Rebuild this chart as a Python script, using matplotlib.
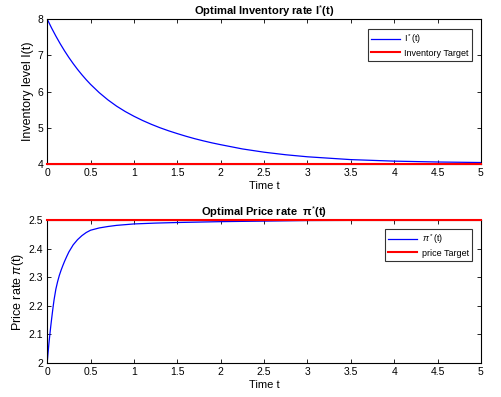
import matplotlib.pyplot as plt

plt.rcParams['font.family'] = ['Liberation Sans', 'DejaVu Sans']
plt.rcParams['mathtext.fontset'] = 'custom'
plt.rcParams['mathtext.rm'] = 'Liberation Sans'
plt.rcParams['mathtext.it'] = 'Liberation Sans:italic'
plt.rcParams['mathtext.bf'] = 'Liberation Sans:bold'

# inventory trajectory
t_inv = [0, 0.05, 0.1, 0.15, 0.2, 0.25, 0.3, 0.35, 0.4, 0.45, 0.5, 0.6, 0.7,
         0.8, 0.9, 1.0, 1.1, 1.2, 1.3, 1.4, 1.5, 1.6, 1.7, 1.8, 1.9, 2,
         2.25, 2.5, 2.75, 3, 3.5, 4, 4.5, 5]
inv = [8, 7.756, 7.530, 7.319, 7.122, 6.939, 6.769, 6.610, 6.463, 6.325,
       6.197, 5.968, 5.769, 5.596, 5.447, 5.317, 5.2, 5.095, 5.0, 4.915,
       4.838, 4.765, 4.698, 4.638, 4.582, 4.532, 4.415, 4.325, 4.254, 4.198,
       4.12, 4.078, 4.054, 4.04]
inv_target = 4

# price trajectory
t_price = [0, 0.01, 0.02, 0.03, 0.04, 0.05, 0.06, 0.07, 0.08, 0.1, 0.12, 0.14,
           0.16, 0.18, 0.2, 0.225, 0.25, 0.3, 0.35, 0.4, 0.45, 0.5, 0.6, 0.7,
           0.8, 1, 1.25, 1.5, 2, 2.5, 3, 4, 5]
price = [2.0, 2.035, 2.068, 2.097, 2.125, 2.151, 2.176, 2.2, 2.222, 2.258,
         2.284, 2.306, 2.324, 2.34, 2.355, 2.372, 2.388, 2.413, 2.431, 2.445,
         2.456, 2.464, 2.472, 2.477, 2.481, 2.486, 2.489, 2.491, 2.494, 2.496,
         2.498, 2.499, 2.5]
price_target = 2.5

fig = plt.figure(figsize=(5.02, 3.97), dpi=100)
ax1 = fig.add_axes([0.094, 0.587, 0.864, 0.365])
ax2 = fig.add_axes([0.094, 0.086, 0.864, 0.360])


def style(ax):
    ax.tick_params(direction='in', top=True, right=True, labelsize=7.5,
                   length=3, width=0.6, pad=3)
    for s in ax.spines.values():
        s.set_linewidth(0.8)
    ax.set_xlim(0, 5)
    ax.set_xticks([0, 0.5, 1, 1.5, 2, 2.5, 3, 3.5, 4, 4.5, 5])
    ax.set_xticklabels(['0', '0.5', '1', '1.5', '2', '2.5', '3', '3.5', '4', '4.5', '5'])
    ax.set_xlabel('Time t', fontsize=8, labelpad=2)


def legend(ax, y):
    leg = ax.legend(loc='upper right', fontsize=6.5, fancybox=False,
                    edgecolor='black', handlelength=3.2, handletextpad=0.5,
                    borderpad=0.35, labelspacing=0.3, borderaxespad=0,
                    bbox_to_anchor=(0.979, y))
    leg.get_frame().set_linewidth(0.8)


ax1.plot(t_inv, inv, color='blue', lw=0.9, label=r'I$^*$(t)')
ax1.plot([0, 5], [inv_target, inv_target], color='red', lw=1.5,
         label='Inventory Target', clip_on=False, zorder=3)
style(ax1)
ax1.set_ylim(4, 8)
ax1.set_yticks([4, 5, 6, 7, 8])
ax1.set_ylabel('Inventory level I(t)', fontsize=9, labelpad=2)
ax1.set_title(r'Optimal Inventory rate I$^{*}$(t)', fontsize=8, fontweight='bold', pad=3)
legend(ax1, 0.931)

ax2.plot(t_price, price, color='blue', lw=0.9, label=r'$\pi^*$(t)')
ax2.plot([0, 5], [price_target, price_target], color='red', lw=1.5,
         label='price Target', clip_on=False, zorder=3)
style(ax2)
ax2.set_ylim(2, 2.5)
ax2.set_yticks([2, 2.1, 2.2, 2.3, 2.4, 2.5])
ax2.set_yticklabels(['2', '2.1', '2.2', '2.3', '2.4', '2.5'])
ax2.set_ylabel(r'Price rate $\pi$(t)', fontsize=9, labelpad=2)
ax2.set_title(r'Optimal Price rate  $\mathbf{\pi}^{*}$(t)', fontsize=8, fontweight='bold', pad=3)
legend(ax2, 0.937)

fig.savefig('out.png', dpi=100)
